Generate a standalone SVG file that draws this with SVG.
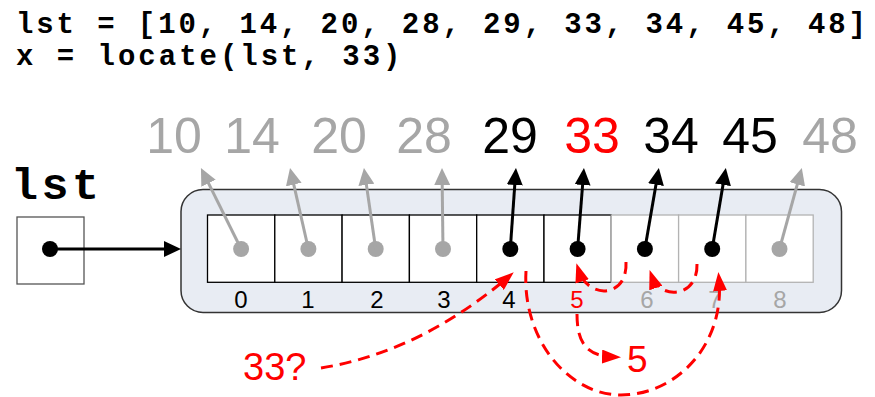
<svg xmlns="http://www.w3.org/2000/svg" width="875" height="397" viewBox="0 0 875 397">
<defs>
<style>
.code{font-family:"Liberation Mono","Courier New",monospace;font-weight:bold;fill:#000}
.num{font-family:"Liberation Sans",Arial,sans-serif;font-size:50px;text-anchor:middle}
.idx{font-family:"Liberation Sans",Arial,sans-serif;font-size:24px;text-anchor:middle}
.ann{font-family:"Liberation Sans",Arial,sans-serif;fill:#ff0000}
.gray{fill:#a6a6a6}
.blk{fill:#000}
.red{fill:#ff0000}
.cell{fill:#fff;stroke:#000;stroke-width:1.3}
.cellg{fill:#fff;stroke:#b3b3b3;stroke-width:1.3}
.ptr{fill:none;stroke:#000;stroke-width:3;marker-end:url(#ab)}
.ptrg{fill:none;stroke:#a6a6a6;stroke-width:3;marker-end:url(#ag)}
.rd{fill:none;stroke:#ff0000;stroke-width:3;stroke-dasharray:12,7;marker-end:url(#ar)}
</style>
<marker id="ab" markerUnits="userSpaceOnUse" markerWidth="17" markerHeight="16" refX="9" refY="8" orient="auto"><path d="M0,0 L17,8 L0,16 z" fill="#000"/></marker>
<marker id="ag" markerUnits="userSpaceOnUse" markerWidth="17" markerHeight="16" refX="9" refY="8" orient="auto"><path d="M0,0 L17,8 L0,16 z" fill="#a6a6a6"/></marker>
<marker id="ar" markerUnits="userSpaceOnUse" markerWidth="19" markerHeight="14" refX="12" refY="7" orient="auto"><path d="M0,0 L19,7 L0,14 z" fill="#ff0000"/></marker>
</defs>
<rect width="875" height="397" fill="#fff"/>
<g id="code">
<text class="code" x="16" y="33" font-size="29" textLength="850" lengthAdjust="spacing">lst = [10, 14, 20, 28, 29, 33, 34, 45, 48]</text>
<text class="code" x="16" y="65" font-size="29" textLength="384.5" lengthAdjust="spacing">x = locate(lst, 33)</text>
</g>
<g id="lst-var">
<text class="code" x="11" y="199" font-size="45" textLength="88" lengthAdjust="spacing">lst</text>
<rect x="17" y="217" width="67" height="67" fill="#fff" stroke="#555" stroke-width="1.3"/>
<circle cx="50" cy="249" r="8" fill="#000"/>
</g>
<g id="array">
<rect x="181" y="189.5" width="660.5" height="123" rx="22" fill="#e8ecf3" stroke="#333" stroke-width="1.5"/>
<g id="cells">
<rect class="cell" x="207.5" y="215" width="67.3" height="67.3"/>
<rect class="cell" x="274.8" y="215" width="67.3" height="67.3"/>
<rect class="cell" x="342.1" y="215" width="67.3" height="67.3"/>
<rect class="cell" x="409.4" y="215" width="67.3" height="67.3"/>
<rect class="cell" x="476.7" y="215" width="67.3" height="67.3"/>
<rect class="cell" x="544" y="215" width="67.3" height="67.3"/>
<rect class="cellg" x="611.3" y="215" width="67.3" height="67.3"/>
<rect class="cellg" x="678.6" y="215" width="67.3" height="67.3"/>
<rect class="cellg" x="745.9" y="215" width="67.3" height="67.3"/>
</g>
<g id="indices">
<text class="idx blk" x="241" y="308">0</text>
<text class="idx blk" x="308" y="308">1</text>
<text class="idx blk" x="377" y="308">2</text>
<text class="idx blk" x="444" y="308">3</text>
<text class="idx blk" x="509" y="308">4</text>
<text class="idx red" x="577" y="308">5</text>
<text class="idx gray" x="647" y="308">6</text>
<text class="idx gray" x="715" y="308">7</text>
<text class="idx gray" x="780" y="308">8</text>
</g>
<g id="dots">
<circle cx="241.1" cy="249" r="8" fill="#a6a6a6"/>
<circle cx="308.4" cy="249" r="8" fill="#a6a6a6"/>
<circle cx="375.7" cy="249" r="8" fill="#a6a6a6"/>
<circle cx="443" cy="249" r="8" fill="#a6a6a6"/>
<circle cx="510.3" cy="249" r="8" fill="#000"/>
<circle cx="577.6" cy="249" r="8" fill="#000"/>
<circle cx="644.9" cy="249" r="8" fill="#000"/>
<circle cx="712.2" cy="249" r="8" fill="#000"/>
<circle cx="779.5" cy="249" r="8" fill="#a6a6a6"/>
</g>
</g>
<g id="values">
<text class="num gray" x="174" y="153">10</text>
<text class="num gray" x="252" y="153">14</text>
<text class="num gray" x="339" y="153">20</text>
<text class="num gray" x="424" y="153">28</text>
<text class="num blk" x="510" y="153">29</text>
<text class="num red" x="592" y="153">33</text>
<text class="num blk" x="671" y="153">34</text>
<text class="num blk" x="750" y="153">45</text>
<text class="num gray" x="830" y="153">48</text>
</g>
<g id="connectors">
<path class="ptr" d="M50,249 L173,249"/>
<path class="ptrg" d="M241.1,249 L204.5,175.2"/>
<path class="ptrg" d="M308.4,249 L291.8,175.8"/>
<path class="ptrg" d="M375.7,249 L365.1,175.9"/>
<path class="ptrg" d="M443,249 L442.1,176"/>
<path class="ptr" d="M510.3,249 L515.4,176"/>
<path class="ptr" d="M577.6,249 L583.3,176"/>
<path class="ptr" d="M644.9,249 L657.5,175.8"/>
<path class="ptr" d="M712.2,249 L724.5,175.9"/>
<path class="ptrg" d="M779.5,249 L799.7,175.7"/>
<path class="rd" d="M321,368 Q420,352 508.4,276.9"/>
<path class="rd" d="M526,271 C522,340 569,395 621,395 C676,395 725,345 719,279"/>
<path class="rd" d="M577,314 C577,345 588,356 614,357"/>
<path class="rd" d="M626,262 C628,298 588,300 578.5,270"/>
<path class="rd" d="M697,264 C698,298 660,300 651.9,276.7"/>
</g>
<g id="annotations">
<text class="ann" x="243" y="380" font-size="38">33?</text>
<text class="ann" x="627" y="372" font-size="37">5</text>
</g>
</svg>
